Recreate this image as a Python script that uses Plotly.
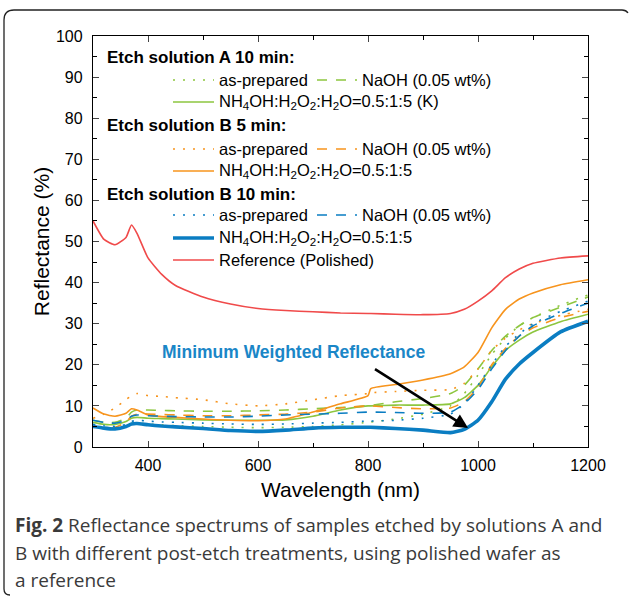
import plotly.graph_objects as go

# ---------------- data ----------------
wavelength = [300, 320, 340, 360, 370, 380, 400, 425, 450, 500, 550, 600, 650, 700, 750,
              800, 805, 850, 900, 950, 975, 1000, 1025, 1050, 1075, 1100, 1150, 1200]

a10_asprep = [5.0, 4.6, 4.5, 5.0, 5.8, 5.8, 5.6, 5.4, 5.2, 5.0, 4.8, 4.7, 4.8, 5.0, 5.4,
              6.0, 6.1, 6.8, 8.0, 10.0, 13.0, 17.5, 22.5, 26.5, 29.5, 31.5, 34.5, 37.0]
a10_naoh = [6.5, 6.0, 6.0, 7.0, 8.5, 9.0, 9.0, 8.9, 8.8, 8.7, 8.7, 8.8, 9.0, 9.3, 9.6,
            10.0, 10.1, 11.0, 11.8, 13.0, 15.0, 19.0, 23.5, 27.0, 29.5, 31.5, 34.0, 36.5]
a10_nh4oh = [6.0, 5.5, 5.5, 6.2, 7.0, 7.2, 7.0, 6.9, 6.8, 6.6, 6.5, 6.5, 6.6, 7.5, 9.0,
             10.0, 10.0, 10.2, 10.2, 10.5, 12.0, 15.0, 19.5, 23.5, 26.0, 28.0, 30.5, 32.3]

b5_asprep = [7.0, 8.0, 9.5, 11.5, 12.5, 13.0, 12.5, 12.3, 12.0, 11.5, 10.5, 10.0, 10.5, 11.5, 12.5,
             13.0, 13.2, 13.5, 13.8, 14.0, 15.5, 19.0, 23.5, 26.5, 28.5, 30.0, 32.0, 33.5]
b5_naoh = [5.0, 4.5, 4.8, 6.0, 7.5, 8.0, 8.0, 7.9, 7.8, 7.6, 7.6, 7.8, 8.0, 8.5, 9.5,
           10.0, 10.0, 9.6, 9.3, 9.5, 11.0, 14.5, 20.0, 24.0, 27.0, 29.0, 31.5, 33.0]
b5_nh4oh = [9.5, 8.0, 7.5, 8.2, 9.3, 9.0, 7.8, 7.4, 7.2, 6.8, 6.5, 6.4, 6.8, 8.5, 10.5,
            12.5, 14.2, 15.2, 16.3, 17.8, 19.5, 23.0, 29.0, 33.5, 36.0, 37.5, 39.5, 40.7]

b10_asprep = [5.5, 5.2, 5.0, 5.5, 6.2, 6.5, 6.3, 6.1, 6.0, 5.8, 5.6, 5.5, 5.6, 5.8, 6.0,
              6.3, 6.3, 6.5, 7.0, 8.0, 10.5, 15.0, 20.0, 24.5, 27.5, 30.0, 33.0, 35.5]
b10_naoh = [6.5, 6.0, 5.8, 6.5, 7.5, 7.8, 7.6, 7.5, 7.4, 7.3, 7.3, 7.5, 7.8, 8.0, 8.2,
            8.5, 8.5, 8.4, 8.2, 8.5, 10.5, 14.0, 19.0, 23.5, 27.0, 29.5, 32.5, 35.0]
b10_nh4oh = [5.0, 4.6, 4.4, 5.0, 5.6, 5.7, 5.4, 5.1, 4.9, 4.5, 4.0, 3.8, 4.1, 4.6, 4.8,
             4.8, 4.8, 4.5, 4.1, 3.5, 4.3, 6.5, 11.0, 16.5, 20.2, 23.0, 28.0, 30.6]

reference = [55.0, 50.5, 49.2, 51.0, 54.0, 52.0, 46.0, 42.0, 39.3, 36.5, 34.8, 33.7, 33.2, 32.9, 32.6,
             32.5, 32.5, 32.3, 32.2, 32.5, 33.5, 35.5, 38.0, 41.2, 43.3, 44.7, 46.0, 46.5]

x_ticks = [400, 600, 800, 1000, 1200]
x_minor = [500, 700, 900, 1100]

GREEN = "#8DC63F"
ORANGE = "#F7941D"
BLUE = "#0A7DC2"
RED = "#F04A4A"
DOT = "2px,8px"
DASH = "10px,9px"

series = [
    (a10_asprep, GREEN, DOT, 1.6),
    (a10_naoh, GREEN, DASH, 1.6),
    (a10_nh4oh, GREEN, "solid", 1.6),
    (b5_asprep, ORANGE, DOT, 1.6),
    (b5_naoh, ORANGE, DASH, 1.6),
    (b5_nh4oh, ORANGE, "solid", 1.6),
    (b10_asprep, BLUE, DOT, 1.6),
    (b10_naoh, BLUE, DASH, 1.6),
    (b10_nh4oh, BLUE, "solid", 3.6),
    (reference, RED, "solid", 1.6),
]

fig = go.Figure()
for vals, col, dash, w in series:
    fig.add_trace(go.Scatter(x=wavelength, y=vals, mode="lines",
                             line=dict(color=col, dash=dash, width=w, shape="spline", smoothing=0.5),
                             showlegend=False, hoverinfo="skip"))

L, R, T, B = 93, 588, 36, 447
W, H = 629, 596


def px(x):
    return (x - L) / (R - L)


def py(y):
    return (B - y) / (B - T)


FONT = "Liberation Sans, Arial, Helvetica, sans-serif"
shapes = []
annos = []


def header(text, y):
    annos.append(dict(x=px(105), y=py(y), xref="paper", yref="paper", text="<b>" + text + "</b>",
                      showarrow=False, xanchor="left", yanchor="middle",
                      font=dict(size=17, color="black", family=FONT)))


def entry(x0, x1, y, col, dash, w, text):
    shapes.append(dict(type="line", xref="paper", yref="paper", x0=px(x0), x1=px(x1),
                       y0=py(y), y1=py(y), line=dict(color=col, dash=dash, width=w)))
    annos.append(dict(x=px(x1 + 3), y=py(y), xref="paper", yref="paper", text=text,
                      showarrow=False, xanchor="left", yanchor="middle",
                      font=dict(size=16.5, color="black", family=FONT)))


NH = "NH<sub>4</sub>OH:H<sub>2</sub>O<sub>2</sub>:H<sub>2</sub>O=0.5:1:5"
header("Etch solution A 10 min:", 57)
entry(173, 214, 80, GREEN, DOT, 1.6, "as-prepared")
entry(317, 357, 80, GREEN, DASH, 1.6, "NaOH (0.05 wt%)")
entry(173, 214, 102, GREEN, "solid", 1.6, NH + " (K)")
header("Etch solution B 5 min:", 126)
entry(173, 214, 149, ORANGE, DOT, 1.6, "as-prepared")
entry(317, 357, 149, ORANGE, DASH, 1.6, "NaOH (0.05 wt%)")
entry(173, 214, 171, ORANGE, "solid", 1.6, NH)
header("Etch solution B 10 min:", 194)
entry(173, 214, 215, BLUE, DOT, 1.6, "as-prepared")
entry(317, 357, 215, BLUE, DASH, 1.6, "NaOH (0.05 wt%)")
entry(173, 214, 238, BLUE, "solid", 3.6, NH)
entry(173, 214, 260, RED, "solid", 1.6, "Reference (Polished)")

# annotation text and arrow in data coordinates
annos.append(dict(x=665, y=23, xref="x", yref="y", text="<b>Minimum Weighted Reflectance</b>",
                  showarrow=False, font=dict(size=17.5, color="#1A86C7", family=FONT)))
annos.append(dict(x=982, y=4.6, xref="x", yref="y", ax=810, ay=19.2, axref="x", ayref="y",
                  text="", showarrow=True, arrowhead=2, arrowsize=1.1, arrowwidth=2.6,
                  arrowcolor="black"))

# caption
CAP = "Open Sans, Noto Sans, sans-serif"
cap_lines = ["<b>Fig. 2</b> Reflectance spectrums of samples etched by solutions A and",
             "B with different post-etch treatments, using polished wafer as",
             "a reference"]
for i, t in enumerate(cap_lines):
    annos.append(dict(x=px(13), y=py(525 + 27.5 * i), xref="paper", yref="paper", text=t,
                      showarrow=False, xanchor="left", yanchor="middle",
                      font=dict(size=19, color="#3a3a3a", family=CAP)))

# outer rounded border (top and left edges)
x0, y0, xb, yb, r = 4, 10, 628, 595, 10
path = (f"M {px(xb)},{py(y0 + 3)} Q {px(xb - 2)},{py(y0)} {px(xb - 6)},{py(y0)} "
        f"L {px(x0 + r)},{py(y0)} "
        f"Q {px(x0)},{py(y0)} {px(x0)},{py(y0 + r)} "
        f"L {px(x0)},{py(yb - 6)} Q {px(x0)},{py(yb)} {px(x0 + 6)},{py(yb)}")
shapes.append(dict(type="path", xref="paper", yref="paper", path=path,
                   line=dict(color="#222222", width=1.3)))

fig.update_layout(
    width=W, height=H,
    margin=dict(l=L, r=W - R, t=T, b=H - B),
    paper_bgcolor="white", plot_bgcolor="white",
    font=dict(family=FONT, color="black"),
    shapes=shapes, annotations=annos,
    xaxis=dict(range=[300, 1200], tickvals=x_ticks, ticks="inside", ticklen=6, tickwidth=1,
               showline=True, linecolor="black", linewidth=1.3, mirror="allticks",
               showgrid=False, zeroline=False, tickfont=dict(size=16),
               ticklabelstandoff=4,
               minor=dict(tickvals=x_minor, ticks="inside", ticklen=4, tickcolor="black"),
               title=dict(text="Wavelength (nm)", font=dict(size=21), standoff=8)),
    yaxis=dict(range=[0, 100], dtick=10, ticks="inside", ticklen=6, tickwidth=1,
               showline=True, linecolor="black", linewidth=1.3, mirror="allticks",
               showgrid=False, zeroline=False, tickfont=dict(size=16),
               ticklabelstandoff=6,
               minor=dict(dtick=5, ticks="inside", ticklen=4, tickcolor="black"),
               title=dict(text="Reflectance (%)", font=dict(size=21), standoff=0)),
)

fig.write_html("out.html", config={"displayModeBar": False},
               post_script="document.body.style.margin='0';document.body.style.overflow='hidden';")
